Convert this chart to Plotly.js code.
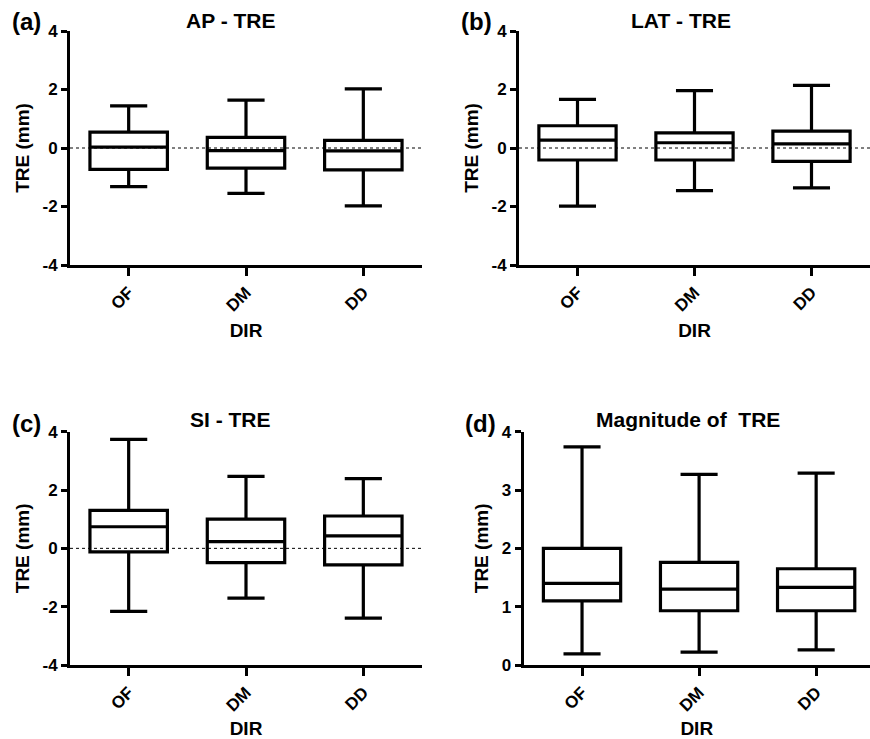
<!DOCTYPE html>
<html>
<head>
<meta charset="utf-8">
<script src="https://cdn.plot.ly/plotly-3.0.1.min.js"></script>
<style>html,body{margin:0;padding:0;background:#fff}#chart{width:870px;height:739px}</style>
</head>
<body>
<div id="chart"></div>
<script>
// Categories
const categories = ["OF", "DM", "DD"];

// (a) AP - TRE
const apLower  = [-1.32, -1.55, -1.98];
const apQ1     = [-0.73, -0.69, -0.75];
const apMedian = [0.03, -0.09, -0.10];
const apQ3     = [0.54, 0.36, 0.26];
const apUpper  = [1.44, 1.64, 2.02];

// (b) LAT - TRE
const latLower  = [-1.99, -1.46, -1.36];
const latQ1     = [-0.41, -0.41, -0.46];
const latMedian = [0.27, 0.18, 0.14];
const latQ3     = [0.76, 0.52, 0.58];
const latUpper  = [1.66, 1.96, 2.14];

// (c) SI - TRE
const siLower  = [-2.16, -1.71, -2.39];
const siQ1     = [-0.12, -0.49, -0.57];
const siMedian = [0.74, 0.23, 0.43];
const siQ3     = [1.30, 1.00, 1.11];
const siUpper  = [3.74, 2.47, 2.39];

// (d) Magnitude of TRE
const magLower  = [0.19, 0.22, 0.26];
const magQ1     = [1.10, 0.93, 0.93];
const magMedian = [1.40, 1.30, 1.33];
const magQ3     = [2.00, 1.76, 1.65];
const magUpper  = [3.74, 3.27, 3.29];

const yTicksSigned = [-4, -2, 0, 2, 4];
const yTicksMag = [0, 1, 2, 3, 4];

const panelTitles = ["AP - TRE", "LAT - TRE", "SI - TRE", "Magnitude of\u00a0 TRE"];
const panelLabels = ["(a)", "(b)", "(c)", "(d)"];

const FONT = "Liberation Sans, Arial, sans-serif";

function boxTrace(xa, ya, lo, q1, med, q3, hi) {
  return {
    type: "box", x: categories, xaxis: xa, yaxis: ya,
    lowerfence: lo, q1: q1, median: med, q3: q3, upperfence: hi,
    boxpoints: false, fillcolor: "rgba(255,255,255,0)",
    line: {color: "#000000", width: 3.2},
    width: 0.66, whiskerwidth: 0.48, showlegend: false, hoverinfo: "skip"
  };
}

const data = [
  boxTrace("x", "y", apLower, apQ1, apMedian, apQ3, apUpper),
  boxTrace("x2", "y2", latLower, latQ1, latMedian, latQ3, latUpper),
  boxTrace("x3", "y3", siLower, siQ1, siMedian, siQ3, siUpper),
  boxTrace("x4", "y4", magLower, magQ1, magMedian, magQ3, magUpper)
];

const W = 870, H = 739;
const px = v => v / W, py = v => 1 - v / H;
const bold = s => "<b>" + s + "</b>";

function xAxis(domain, range, anchor) {
  return {
    domain: domain, range: range, anchor: anchor, type: "category",
    tickvals: categories, ticktext: categories.map(bold),
    showline: true, linecolor: "#000", linewidth: 3, mirror: false,
    ticks: "outside", ticklen: 8, tickwidth: 3, tickcolor: "#000",
    tickangle: -45, showgrid: false, zeroline: false,
    tickfont: {family: FONT, size: 17, color: "#000", weight: "bold"},
    title: {text: "DIR", font: {family: FONT, size: 19, color: "#000", weight: "bold"}, standoff: 10}
  };
}
function yAxis(domain, range, ticks, anchor) {
  return {
    domain: domain, range: range, anchor: anchor,
    tickvals: ticks, ticktext: ticks.map(t => bold(String(t))),
    showline: true, linecolor: "#000", linewidth: 3,
    ticks: "outside", ticklen: 6, tickwidth: 3, tickcolor: "#000",
    showgrid: false, zeroline: false,
    tickfont: {family: FONT, size: 17, color: "#000", weight: "bold"},
    title: {text: "TRE (mm)", font: {family: FONT, size: 19, color: "#000", weight: "bold"}, standoff: 8}
  };
}

const topY = [py(265), py(31)];
const botY = [py(665), py(431.7)];

function zeroLine(xref, yref) {
  return {type: "line", xref: xref + " domain", yref: yref, x0: 0, x1: 1, y0: 0, y1: 0,
          line: {color: "#000", width: 1, dash: "dot"}, layer: "below"};
}

function ann(text, x, y, size) {
  return {text: text, xref: "paper", yref: "paper", x: px(x), y: py(y),
          xanchor: "center", yanchor: "middle", showarrow: false,
          font: {family: FONT, size: size, color: "#000", weight: "bold"}};
}

const layout = {
  width: W, height: H, margin: {l: 0, r: 0, t: 0, b: 0},
  paper_bgcolor: "#fff", plot_bgcolor: "#fff", showlegend: false,
  xaxis: xAxis([px(70), px(422)], [-0.5, 2.5], "y"),
  yaxis: yAxis(topY, [-4, 4], yTicksSigned, "x"),
  xaxis2: xAxis([px(519), 1], [-0.5, 2.5], "y2"),
  yaxis2: yAxis(topY, [-4, 4], yTicksSigned, "x2"),
  xaxis3: xAxis([px(70), px(422)], [-0.5, 2.5], "y3"),
  yaxis3: yAxis(botY, [-4, 4], yTicksSigned, "x3"),
  xaxis4: xAxis([px(523.5), 1], [-0.5, 2.46], "y4"),
  yaxis4: yAxis(botY, [0, 4], yTicksMag, "x4"),
  shapes: [zeroLine("x", "y"), zeroLine("x2", "y2"), zeroLine("x3", "y3")],
  annotations: [
    ann(panelTitles[0], 231, 20, 21),
    ann(panelTitles[1], 681, 20, 21),
    ann(panelTitles[2], 231, 419, 21),
    ann(panelTitles[3], 688, 419, 21),
    ann(panelLabels[0], 26, 21, 24),
    ann(panelLabels[1], 476, 21, 24),
    ann(panelLabels[2], 26, 423, 24),
    ann(panelLabels[3], 480, 423, 24)
  ]
};

Plotly.newPlot("chart", data, layout, {displayModeBar: false, staticPlot: true});
</script>
</body>
</html>
